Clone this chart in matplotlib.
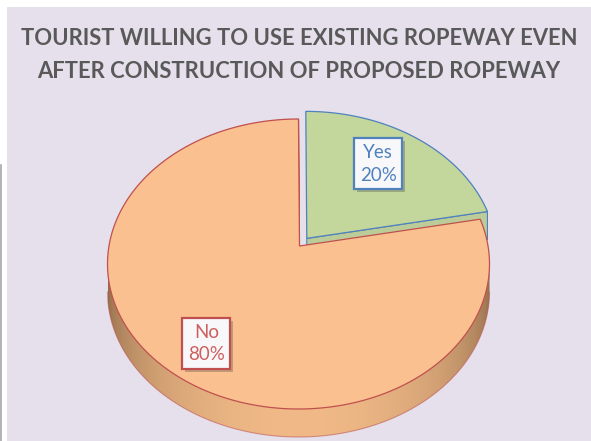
import numpy as np
import matplotlib.pyplot as plt
from matplotlib.patches import Polygon, Rectangle
from matplotlib.colors import to_rgb
import matplotlib.patheffects as pe

# survey answers
answers = ['Yes', 'No']
shares = [20, 80]
top_colors = ['#C3D69B', '#FAC090']
edge_colors = ['#4F81BD', '#C0504D']
label_colors = ['#4F81BD', '#CD5F5C']
explode = [0.065, 0.0]
label_radius = [0.635, 0.83]

title = 'TOURIST WILLING TO USE EXISTING ROPEWAY EVEN\nAFTER CONSTRUCTION OF PROPOSED ROPEWAY'

# pie geometry in pixel units (y grows downwards)
cx, cy = 298.5, 264.0
a, b = 191.0, 145.0
apex = (299.5, 246.0)
depth = 28.0


def rim(theta_deg, dz=0.0, off=(0.0, 0.0)):
    t = np.radians(theta_deg)
    return np.column_stack([cx + a * np.sin(t) + off[0],
                            cy - b * np.cos(t) + dz + off[1]])


def mix(c1, c2, f):
    c1 = np.array(to_rgb(c1))
    c2 = np.array(to_rgb(c2))
    return c1 + (c2 - c1) * np.asarray(f)[..., None]


fig = plt.figure(figsize=(5.91, 4.41), dpi=100)
ax = fig.add_axes([0, 0, 1, 1])
ax.set_xlim(0, 591)
ax.set_ylim(441, 0)
ax.axis('off')
fig.patch.set_facecolor('white')

# chart area
ax.add_patch(Rectangle((7, 7), 591, 441, fc='#E5E0EC', ec='none', zorder=0))
ax.plot([0.5, 0.5], [165, 441], color='#A6A6A6', lw=1.2, zorder=0)

ax.text(299, 55, title, ha='center', va='center', fontsize=15.8,
        fontweight='bold', family='Lato', color='#595959', linespacing=1.7)

fracs = np.array(shares, dtype=float) / sum(shares)
ends = np.cumsum(fracs) * 360
starts = ends - fracs * 360

z = 1
for i, ans in enumerate(answers):
    s, e = starts[i], ends[i]
    mid = (s + e) / 2
    off = (explode[i] * a * np.sin(np.radians(mid)),
           -explode[i] * b * np.cos(np.radians(mid)))
    ap = np.array([apex[0] + off[0], apex[1] + off[1]])

    # radial cut face at the end angle
    r_end = rim(e, off=off)[0]
    cut = np.array([ap, r_end, r_end + [0, depth], ap + [0, depth]])
    ax.add_patch(Polygon(cut, closed=True, fc=mix(top_colors[i], '#808080', 0.12),
                         ec=edge_colors[i], lw=0.8, zorder=z))

    # outer side, shaded darker towards the edges
    lo, hi = max(s, 90), min(e, 270)
    if hi > lo:
        th = np.linspace(lo, hi, 400)
        side = np.vstack([rim(th, off=off), rim(th[::-1], dz=depth, off=off)])
        side_patch = Polygon(side, closed=True, fc='none', ec='none', zorder=z + 1)
        ax.add_patch(side_patch)
        xs = np.linspace(cx - a, cx + a, 600)
        f = np.sqrt(np.clip(1 - ((xs - cx) / a) ** 2, 0, 1))
        grad = mix('#8E6A48', '#F0B987', f)[None, :, :]
        y0 = side[:, 1].min()
        y1 = side[:, 1].max()
        img = ax.imshow(grad, extent=(cx - a + off[0], cx + a + off[0], y1, y0),
                        aspect='auto', interpolation='bilinear', zorder=z + 1)
        img.set_clip_path(side_patch)
        bot = rim(th, dz=depth, off=off)
        ax.plot(bot[:, 0], bot[:, 1], color=edge_colors[i], lw=0.8, alpha=0.55,
                zorder=z + 2)

    # top face
    th = np.linspace(s, e, 300)
    face = np.vstack([ap, rim(th, off=off), ap])
    ax.add_patch(Polygon(face, closed=True, fc=top_colors[i],
                         ec=edge_colors[i], lw=0.9, zorder=z + 3))

    # data label
    lr = label_radius[i]
    lx = ap[0] + lr * a * np.sin(np.radians(mid))
    ly = ap[1] - lr * b * np.cos(np.radians(mid))
    txt = ax.text(lx, ly, f'{ans}\n{shares[i]}%', ha='center', va='center',
                  fontsize=13.5, family='Lato', color=label_colors[i],
                  linespacing=1.4, zorder=20,
                  bbox=dict(boxstyle='square,pad=0.3', fc='#F8F8FB',
                            ec=edge_colors[i], lw=1.6))
    txt.get_bbox_patch().set_path_effects(
        [pe.withSimplePatchShadow(offset=(2, -2), shadow_rgbFace='#404040', alpha=0.3)])
    z += 5

ax.set_xlim(0, 591)
ax.set_ylim(441, 0)
fig.savefig('out.png', dpi=100)
